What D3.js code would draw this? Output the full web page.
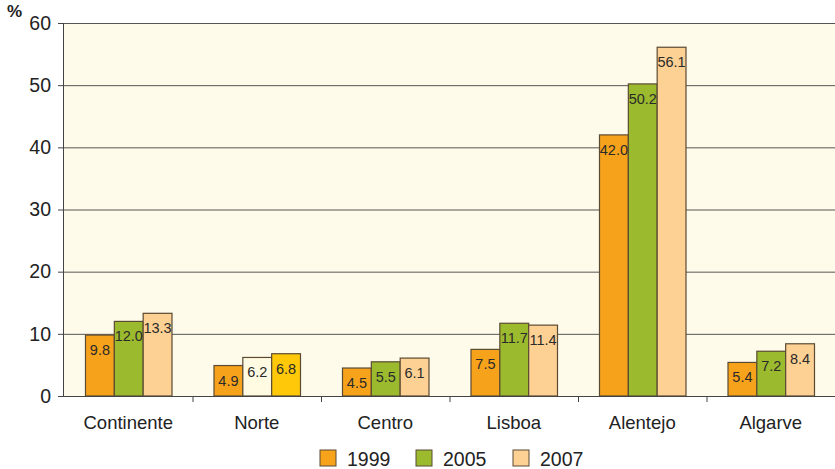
<!DOCTYPE html>
<html><head><meta charset="utf-8">
<script src="https://cdn.jsdelivr.net/npm/d3@7"></script>
<style>body{margin:0;background:#fff;} text{font-family:"Liberation Sans",Arial,sans-serif;}</style>
</head><body>
<svg id="c" width="835" height="469"></svg>
<script>
const categories = ["Continente","Norte","Centro","Lisboa","Alentejo","Algarve"];
const seriesNames = ["1999","2005","2007"];
const v1999 = [9.8,4.9,4.5,7.5,42.0,5.4];
const v2005 = [12.0,6.2,5.5,11.7,50.2,7.2];
const v2007 = [13.3,6.8,6.1,11.4,56.1,8.4];
const yTicks = [0,10,20,30,40,50,60];
const colors = ["#f7a21b","#9cba2e","#fdd094"];
const norteColors = ["#f7a21b","#fffbe3","#ffc90a"];

const svg = d3.select("#c");
const m = {l:64, r:0, t:23, b:73};
const W = 835, H = 469;
const x = d3.scaleBand().domain(categories).range([m.l, W]).paddingInner(0).paddingOuter(0);
const y = d3.scaleLinear().domain([0,60]).range([H-m.b, m.t]);
const xs = d3.scaleBand().domain(seriesNames).range([21.5, x.bandwidth()-20.5]).padding(0);

svg.append("rect").attr("x",m.l).attr("y",m.t).attr("width",W-m.l).attr("height",y(0)-m.t).attr("fill","#fffbea");

// grid
svg.append("g").selectAll("line").data(yTicks.filter(d=>d>0)).join("line")
  .attr("x1",m.l).attr("x2",W).attr("y1",d=>y(d)+0.5).attr("y2",d=>y(d)+0.5)
  .attr("stroke","#555").attr("stroke-width",1);

const data = [v1999,v2005,v2007];
categories.forEach((c,ci)=>{
  const g = svg.append("g");
  seriesNames.forEach((s,si)=>{
    const val = data[si][ci];
    const fill = c==="Norte" ? norteColors[si] : colors[si];
    g.append("rect").attr("x",x(c)+xs(s)).attr("y",y(val)).attr("width",xs.bandwidth()).attr("height",y(0)-y(val))
      .attr("fill",fill).attr("stroke","#5a4a32").attr("stroke-width",1.2);
    g.append("text").attr("x",x(c)+xs(s)+xs.bandwidth()/2).attr("y",y(val)+20)
      .attr("text-anchor","middle").attr("font-size",14.5).attr("fill","#2a2a2a").text(val.toFixed(1));
  });
});

// y axis
const ya = svg.append("g").attr("transform",`translate(${m.l},0)`)
  .call(d3.axisLeft(y).tickValues(yTicks).tickSize(6).tickPadding(7).tickFormat(d3.format("d")));
ya.select(".domain").attr("stroke","#444").attr("d",`M-0.5,${y(60)}V${y(0)}`);
ya.selectAll(".tick line").attr("stroke","#444");
ya.selectAll(".tick text").attr("font-size",19.5).attr("fill","#222").style("font-family","Liberation Sans, Arial, sans-serif");

// x axis
const xa = svg.append("g").attr("transform",`translate(0,${y(0)})`);
xa.append("line").attr("x1",m.l).attr("x2",W).attr("y1",0.5).attr("y2",0.5).attr("stroke","#444");
xa.selectAll("line.t").data(categories.slice(1)).join("line").attr("class","t")
  .attr("x1",d=>x(d)+0.5).attr("x2",d=>x(d)+0.5).attr("y1",0).attr("y2",6).attr("stroke","#444");
xa.selectAll("text").data(categories).join("text")
  .attr("x",d=>x(d)+x.bandwidth()/2).attr("y",33).attr("text-anchor","middle")
  .attr("font-size",18.5).attr("fill","#222").text(d=>d);

svg.append("text").attr("x",7).attr("y",17).attr("font-size",17).attr("font-weight","bold").attr("fill","#222").text("%");

// legend
const legX = [320,416,513];
seriesNames.forEach((s,i)=>{
  svg.append("rect").attr("x",legX[i]).attr("y",450).attr("width",16).attr("height",16)
    .attr("fill",colors[i]).attr("stroke","#5a4a32").attr("stroke-width",1);
  svg.append("text").attr("x",legX[i]+27).attr("y",466).attr("font-size",19.5).attr("fill","#222").text(s);
});
</script>
</body></html>
